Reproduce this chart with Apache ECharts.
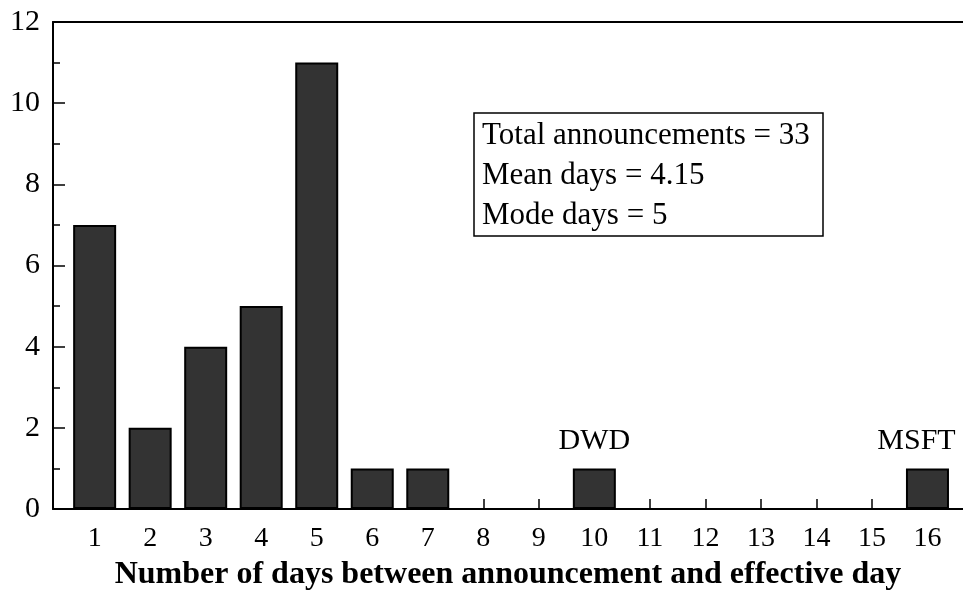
<!DOCTYPE html>
<html>
<head>
<meta charset="utf-8">
<script src="https://cdn.jsdelivr.net/npm/echarts@6/dist/echarts.min.js"></script>
<style>
  html, body { margin: 0; padding: 0; background: #fff; }
  #chart { width: 963px; height: 592px; }
</style>
</head>
<body>
<div id="chart"></div>
<script>
// days between announcement and effective day
var days = [1, 2, 3, 4, 5, 6, 7, 8, 9, 10, 11, 12, 13, 14, 15, 16];
var counts = [7, 2, 4, 5, 11, 1, 1, 0, 0, 1, 0, 0, 0, 0, 0, 1];
var notes = ['', '', '', '', '', '', '', '', '', 'DWD', '', '', '', '', '', 'MSFT'];
var yTicks = [0, 2, 4, 6, 8, 10, 12];
var statsText = ['Total announcements = 33', 'Mean days = 4.15', 'Mode days = 5'];

var serif = '"Liberation Serif", "Times New Roman", serif';

var barData = [];
days.forEach(function (d, i) {
  if (counts[i] > 0) {
    var item = { value: [d, counts[i]], note: notes[i] };
    // last label sits against the right edge, nudge it in
    if (i == days.length - 1) item.label = { offset: [-11, 0] };
    barData.push(item);
  }
});

var chart = echarts.init(document.getElementById('chart'));

var option = {
  animation: false,
  backgroundColor: '#fff',
  title: {
    text: statsText.join('\n'),
    left: 474,
    top: 113,
    padding: [3, 13, 0, 8],
    borderColor: '#000',
    borderWidth: 1.5,
    textStyle: {
      fontFamily: serif,
      fontSize: 31,
      fontWeight: 'normal',
      color: '#000',
      lineHeight: 40
    }
  },
  grid: { left: 53, right: 0, top: 22, bottom: 83, outerBoundsMode: 'none', containLabel: false },
  xAxis: [{
    type: 'value',
    min: 0.25,
    max: 16.64,
    name: 'Number of days between announcement and effective day',
    nameLocation: 'middle',
    nameGap: 50,
    nameTextStyle: { fontFamily: serif, fontSize: 32, fontWeight: 'bold', color: '#000' },
    axisLine: { lineStyle: { color: '#000', width: 2 } },
    axisTick: { inside: true, length: 10, customValues: days, lineStyle: { color: '#000', width: 1.5 } },
    axisLabel: { customValues: days, margin: 16, fontFamily: serif, fontSize: 28, color: '#000' },
    splitLine: { show: false }
  }, {
    type: 'value',
    position: 'top',
    min: 0.25,
    max: 16.64,
    axisLine: { show: true, lineStyle: { color: '#000', width: 2 } },
    axisTick: { show: false },
    axisLabel: { show: false },
    splitLine: { show: false }
  }],
  yAxis: {
    type: 'value',
    min: 0,
    max: 12,
    interval: 2,
    axisLine: { show: true, lineStyle: { color: '#000', width: 2 } },
    axisTick: { inside: true, length: 12, lineStyle: { color: '#000', width: 1.5 } },
    minorTick: { show: true, splitNumber: 2, length: 7, lineStyle: { color: '#000', width: 1.5 } },
    axisLabel: { margin: 13, fontFamily: serif, fontSize: 30, color: '#000',
      customValues: yTicks },
    splitLine: { show: false }
  },
  series: [{
    type: 'bar',
    xAxisIndex: 0,
    barWidth: 43,
    data: barData,
    itemStyle: { color: '#333333', borderColor: '#000', borderWidth: 2 },
    label: {
      show: true,
      position: 'top',
      distance: 12,
      fontFamily: serif,
      fontSize: 30,
      color: '#000',
      formatter: function (p) { return p.data.note; }
    }
  }]
};

chart.setOption(option);
</script>
</body>
</html>
